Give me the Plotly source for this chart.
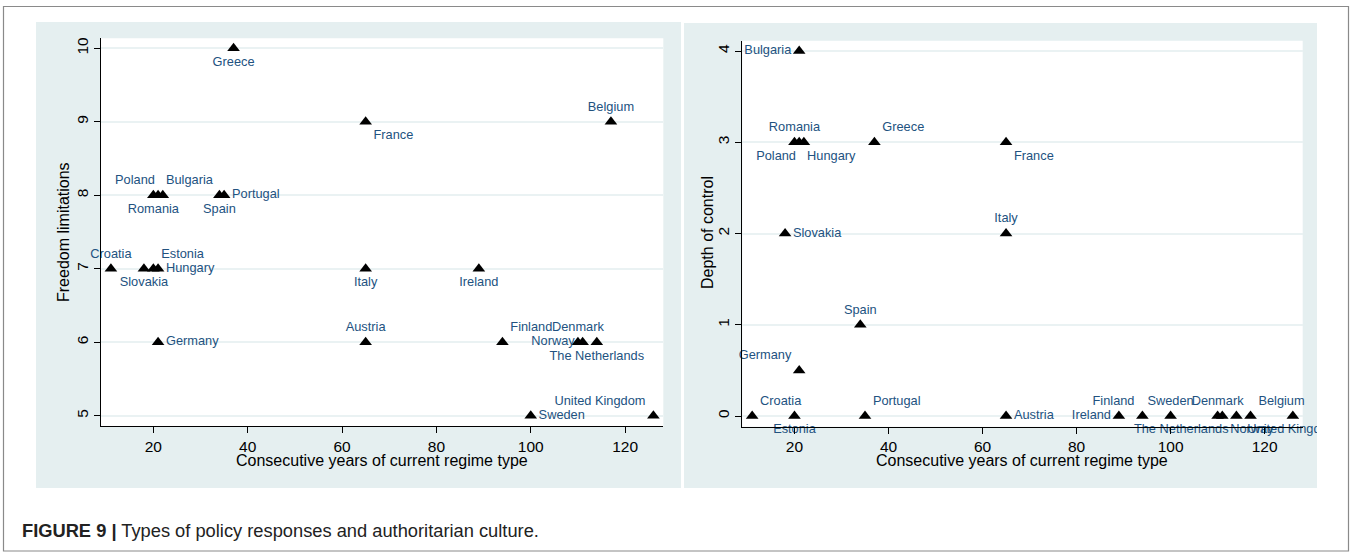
import plotly.graph_objects as go

# ---------------- data ----------------
countries = ["Croatia", "Slovakia", "Estonia", "Romania", "Bulgaria", "Germany", "Hungary",
             "Poland", "Spain", "Portugal", "Greece", "France", "Italy", "Austria", "Ireland",
             "Finland", "Sweden", "Denmark", "Norway", "The Netherlands", "Belgium", "United Kingdom"]
years = [11, 18, 20, 20, 21, 21, 21, 22, 34, 35, 37, 65, 65, 65, 89, 94, 100, 110, 111, 114, 117, 126]
freedom_limitations = [7, 7, 7, 8, 8, 6, 7, 8, 8, 8, 10, 9, 7, 6, 7, 6, 5, 6, 6, 6, 9, 5]
depth_of_control = [0, 2, 0, 3, 4, 0.5, 3, 3, 1, 0, 3, 3, 2, 0, 0, 0, 0, 0, 0, 0, 0, 0]

x_ticks = [20, 40, 60, 80, 100, 120]
left_y_ticks = [5, 6, 7, 8, 9, 10]
right_y_ticks = [0, 1, 2, 3, 4]

x_title = "Consecutive years of current regime type"
left_y_title = "Freedom limitations"
right_y_title = "Depth of control"
caption = "<b>FIGURE 9 |</b> Types of policy responses and authoritarian culture."

# ---------------- label placement (style) ----------------
LEFT_POS = {
    "Greece": "bottom center", "France": "bottom right", "Belgium": "top center",
    "Poland": "top left", "Bulgaria": "top right", "Romania": "bottom center",
    "Spain": "bottom center", "Portugal": "middle right", "Croatia": "top center",
    "Slovakia": "bottom center", "Estonia": "top right", "Hungary": "middle right",
    "Italy": "bottom center", "Ireland": "bottom center", "Germany": "middle right",
    "Austria": "top center", "Finland": "top right", "Denmark": "top center",
    "Norway": "middle left", "The Netherlands": "bottom center", "Sweden": "middle right",
    "United Kingdom": "top left",
}
RIGHT_POS = {
    "Bulgaria": "middle left", "Romania": "top center", "Poland": "bottom left",
    "Hungary": "bottom right", "Greece": "top right", "France": "bottom right",
    "Slovakia": "middle right", "Italy": "top center", "Spain": "top center",
    "Germany": "top left", "Croatia": "top right", "Estonia": "bottom center",
    "Portugal": "top right", "Austria": "middle right", "Ireland": "middle left",
    "Finland": "top left", "Sweden": "top center", "Denmark": "top center",
    "Norway": "bottom right", "The Netherlands": "bottom left", "Belgium": "top right",
    "United Kingdom": "bottom center",
}

W, H = 1352, 554
FONT = "Liberation Sans, Arial, Helvetica, sans-serif"
LABEL_COLOR = "#22527f"
BG = "#e5eff0"
GRID = "#eaf2f3"


def px_x(p):
    return p / W


def px_y(p):
    return 1 - p / H


fig = go.Figure()

fig.add_trace(go.Scatter(
    x=years, y=freedom_limitations, mode="markers+text", text=countries,
    textposition=[LEFT_POS[c] for c in countries],
    textfont=dict(family=FONT, size=12.8, color=LABEL_COLOR),
    marker=dict(symbol="triangle-up", size=11, color="black"),
    cliponaxis=False, xaxis="x", yaxis="y", showlegend=False, hoverinfo="skip",
))
fig.add_trace(go.Scatter(
    x=years, y=depth_of_control, mode="markers+text", text=countries,
    textposition=[RIGHT_POS[c] for c in countries],
    textfont=dict(family=FONT, size=12.8, color=LABEL_COLOR),
    marker=dict(symbol="triangle-up", size=11, color="black"),
    cliponaxis=False, xaxis="x2", yaxis="y2", showlegend=False, hoverinfo="skip",
))

axis_common = dict(
    showline=True, linecolor="black", linewidth=1.2, ticks="outside", ticklen=6,
    tickcolor="black", tickwidth=1.2, tickfont=dict(family=FONT, size=15.5, color="black"),
    zeroline=False, mirror=False,
)

fig.update_layout(
    width=W, height=H, margin=dict(l=0, r=0, t=0, b=0),
    paper_bgcolor="white", plot_bgcolor="white",
    font=dict(family=FONT, color="black"),
    xaxis=dict(domain=[px_x(101), px_x(663.3)], range=[8.9, 128.1], tickvals=x_ticks,
               showgrid=False, anchor="y", **axis_common),
    yaxis=dict(domain=[px_y(426), px_y(38.3)], range=[4.86, 10.136], tickvals=left_y_ticks,
               showgrid=True, gridcolor=GRID, gridwidth=1.5, tickangle=-90, anchor="x",
               **axis_common),
    xaxis2=dict(domain=[px_x(742.3), px_x(1302.7)], range=[8.9, 128.1], tickvals=x_ticks,
                showgrid=False, anchor="y2", **axis_common),
    yaxis2=dict(domain=[px_y(426.7), px_y(40.7)], range=[-0.117, 4.113], tickvals=right_y_ticks,
                showgrid=True, gridcolor=GRID, gridwidth=1.5, tickangle=-90, anchor="x2",
                **axis_common),
)

shapes = [
    # panel backgrounds
    dict(type="rect", xref="paper", yref="paper", x0=px_x(36), x1=px_x(681),
         y0=px_y(488), y1=px_y(22), fillcolor=BG, line=dict(width=0), layer="below"),
    dict(type="rect", xref="paper", yref="paper", x0=px_x(684), x1=px_x(1317),
         y0=px_y(488), y1=px_y(23), fillcolor=BG, line=dict(width=0), layer="below"),
    # plot regions (white)
    dict(type="rect", xref="paper", yref="paper", x0=px_x(101), x1=px_x(663.3),
         y0=px_y(426), y1=px_y(38.3), fillcolor="white", line=dict(width=0), layer="below"),
    dict(type="rect", xref="paper", yref="paper", x0=px_x(742.3), x1=px_x(1302.7),
         y0=px_y(426.7), y1=px_y(40.7), fillcolor="white", line=dict(width=0), layer="below"),
    # clip of graph region on the right
    dict(type="rect", xref="paper", yref="paper", x0=px_x(1317), x1=px_x(1346),
         y0=px_y(488), y1=px_y(23), fillcolor="white", line=dict(width=0), layer="above"),
    # outer border
    dict(type="rect", xref="paper", yref="paper", x0=px_x(3.5), x1=px_x(1348.5),
         y0=px_y(551), y1=px_y(6.5), fillcolor="rgba(0,0,0,0)",
         line=dict(color="#8a8a8a", width=1.2), layer="above"),
]
fig.update_layout(shapes=shapes)

annotations = [
    dict(text=x_title, x=px_x(382), y=px_y(461), xref="paper", yref="paper",
         showarrow=False, xanchor="center", yanchor="middle",
         font=dict(family=FONT, size=16, color="black")),
    dict(text=x_title, x=px_x(1022), y=px_y(461), xref="paper", yref="paper",
         showarrow=False, xanchor="center", yanchor="middle",
         font=dict(family=FONT, size=16, color="black")),
    dict(text=left_y_title, x=px_x(64), y=px_y(232), xref="paper", yref="paper",
         showarrow=False, textangle=-90, xanchor="center", yanchor="middle",
         font=dict(family=FONT, size=16, color="black")),
    dict(text=right_y_title, x=px_x(707), y=px_y(233), xref="paper", yref="paper",
         showarrow=False, textangle=-90, xanchor="center", yanchor="middle",
         font=dict(family=FONT, size=16, color="black")),
    dict(text=caption, x=px_x(20), y=px_y(530), xref="paper", yref="paper",
         showarrow=False, xanchor="left", yanchor="middle",
         font=dict(family=FONT, size=18.3, color="#222222")),
]
fig.update_layout(annotations=annotations)

fig.write_html("out.html", config={"displayModeBar": False},
               post_script="document.body.style.margin='0px';document.body.style.overflow='hidden';")
